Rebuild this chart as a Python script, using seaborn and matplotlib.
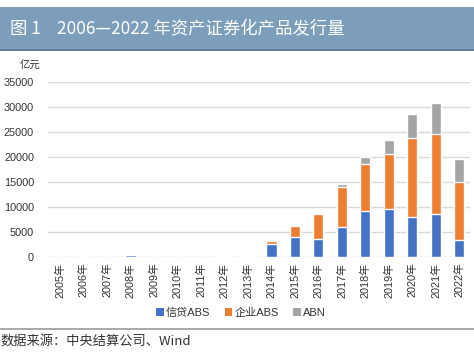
import matplotlib
matplotlib.use("Agg")
import matplotlib.pyplot as plt
import seaborn as sns
import numpy as np
import pandas as pd
from matplotlib.patches import Patch

years = ["2005年", "2006年", "2007年", "2008年", "2009年", "2010年", "2011年", "2012年", "2013年",
         "2014年", "2015年", "2016年", "2017年", "2018年", "2019年", "2020年", "2021年", "2022年"]
credit_abs = [72, 116, 0, 302, 0, 0, 0, 193, 158, 2700, 4020, 3700, 6030, 9250, 9650, 7910, 8580, 3360]
corp_abs = [0, 0, 0, 0, 0, 0, 0, 0, 0, 520, 2150, 4880, 8040, 9380, 10990, 15890, 16080, 11590]
abn = [0, 0, 0, 0, 0, 0, 0, 57, 0, 0, 0, 0, 540, 1350, 2680, 4880, 6170, 4630]
series_names = ["信贷ABS", "企业ABS", "ABN"]
colors = ["#4472C4", "#ED7D31", "#A5A5A5"]
yticks = [0, 5000, 10000, 15000, 20000, 25000, 30000, 35000]

sns.set_theme(style="white")
plt.rcParams['font.family'] = ['Liberation Sans', 'Noto Sans CJK SC', 'DejaVu Sans']

df = pd.DataFrame({"year": years, "credit": credit_abs, "corp": corp_abs, "abn": abn})
df["c1"] = df["credit"]
df["c2"] = df["credit"] + df["corp"]
df["c3"] = df["c2"] + df["abn"]

fig = plt.figure(figsize=(4.74, 3.55), dpi=100)
ax = fig.add_axes([48 / 474, (355 - 257) / 355, 422 / 474, (257 - 82) / 355])

for col, c in zip(["c3", "c2", "c1"], colors[::-1]):
    sns.barplot(data=df, x="year", y=col, color=c, width=0.43, ax=ax,
                saturation=1, zorder=3)

ax.set_xlim(-0.51, 17.45)
ax.set_ylim(0, 35000)
ax.set_yticks(yticks)
ax.set_yticklabels([str(v) for v in yticks], fontsize=7.8, color="#333333")
ax.set_xticks(range(len(years)))
ax.set_xticklabels(years, rotation=90, fontsize=7.8, color="#333333")
ax.tick_params(axis="y", length=0, pad=10)
ax.tick_params(axis="x", length=0, pad=4)
ax.set_xlabel("")
ax.set_ylabel("")
ax.grid(axis="y", color="#D9D9D9", linewidth=1, zorder=0)
for s in ax.spines.values():
    s.set_visible(False)

leg_handles = [Patch(facecolor=c, edgecolor="none") for c in colors]
fig.legend(leg_handles, series_names, loc="center", bbox_to_anchor=(241 / 474, 1 - 313 / 355),
           ncol=3, frameon=False, fontsize=8, handlelength=0.7, handleheight=0.7,
           handletextpad=0.2, columnspacing=1.3, labelcolor="#333333")

# title band
fig.patches.append(plt.Rectangle((0, 1 - 50 / 355), 1, 43 / 355, transform=fig.transFigure,
                                 facecolor="#7C9EBA", edgecolor="none", zorder=0))
fig.patches.append(plt.Rectangle((0, 1 - 51 / 355), 1, 2 / 355, transform=fig.transFigure,
                                 facecolor="#5E7F99", edgecolor="none", zorder=0))
fig.text(10 / 474, 1 - 29 / 355, "图 1", color="white", fontsize=12.5, va="center", ha="left",
         family=['Noto Sans CJK SC', 'DejaVu Sans'])
fig.text(57 / 474, 1 - 29 / 355, "2006—2022 年资产证券化产品发行量", color="white",
         fontsize=12.5, va="center", ha="left", family=['Noto Sans CJK SC', 'DejaVu Sans'])

fig.text(40 / 474, 1 - 66 / 355, "亿元", fontsize=7.5, color="#333333", ha="right", va="center",
         family=['Noto Sans CJK SC', 'DejaVu Sans'])

# separator line and source
fig.lines.append(plt.Line2D([0, 1], [1 - 329 / 355, 1 - 329 / 355], transform=fig.transFigure,
                            color="#999999", linewidth=1.2))
fig.text(0 / 474, 1 - 341 / 355, "数据来源：中央结算公司、Wind", fontsize=9.5, color="#333333",
         ha="left", va="center", family=['Noto Sans CJK SC', 'DejaVu Sans'])

fig.savefig("out.png", dpi=100)
